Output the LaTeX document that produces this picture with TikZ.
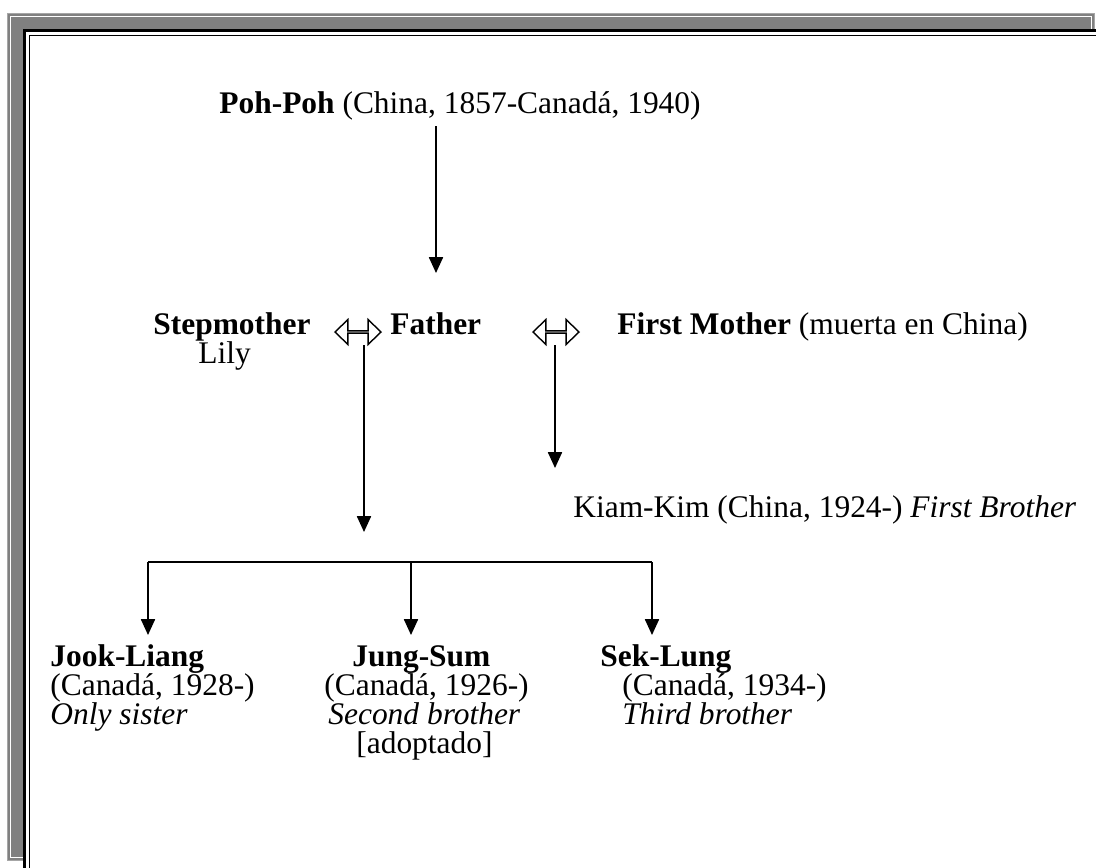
\documentclass[tikz,border=0pt]{standalone}
\usepackage{fontspec}
\setmainfont{Liberation Serif}
\usetikzlibrary{positioning,calc,arrows.meta,shapes.arrows}

\begin{document}
\begin{tikzpicture}[x=0.02cm,y=-0.02cm,
    txt/.style={anchor=base west, inner sep=0pt, font=\fontsize{17.9}{20}\selectfont},
    arr/.style={line width=0.9pt, -{Triangle[length=9pt,width=8pt]}},
    link/.style={line width=0.9pt},
    marriage/.style={double arrow, draw, line width=0.8pt, inner sep=0pt,
        minimum height=0.92cm, minimum width=0.5cm,
        double arrow head extend=0.15cm, double arrow tip angle=88}]
\clip (0,0) rectangle (1096,867);
% page border with shadow
\fill[black!50] (7,13) rectangle (1095,861);
\draw[black!35,line width=0.6pt] (7.5,13.5) rectangle (1094.5,860.5);
\draw[white,line width=0.5pt] (10.5,16.5) rectangle (1091.5,857.5);
\fill[white] (23.5,29.5) rectangle (1120,890);
\draw[black,line width=1.6pt] (24.8,30.8) rectangle (1120,890);
\draw[black,line width=1.1pt] (29.5,35.5) rectangle (1120,890);

% grandmother
\node[txt] (pohpoh) at (219,113) {\textbf{Poh-Poh} (China, 1857-Canadá, 1940)};

% parents
\node[txt] (stepmother) at (153,334) {\textbf{Stepmother}};
\node[txt] (lily) at (198,363) {Lily};
\node[txt] (father) at (390,334) {\textbf{Father}};
\node[txt] (firstmother) at (617,334) {\textbf{First Mother} (muerta en China)};
\node[marriage] (m1) at (358,332) {};
\node[marriage] (m2) at (556,332) {};

% first son
\node[txt] (kiamkim) at (573,517) {Kiam-Kim (China, 1924-) \textit{First Brother}};

% children
\node[txt] (jookliang) at (50,666) {\textbf{Jook-Liang}};
\node[txt] (jookbirth) at (50,695) {(Canadá, 1928-)};
\node[txt] (jookrole) at (50,724) {\textit{Only sister}};
\node[txt] (jungsum) at (352,666) {\textbf{Jung-Sum}};
\node[txt] (jungbirth) at (324,695) {(Canadá, 1926-)};
\node[txt] (jungrole) at (328,724) {\textit{Second brother}};
\node[txt] (jungnote) at (356,753) {[adoptado]};
\node[txt] (seklung) at (600,666) {\textbf{Sek-Lung}};
\node[txt] (sekbirth) at (622,695) {(Canadá, 1934-)};
\node[txt] (sekrole) at (622,724) {\textit{Third brother}};

% connectors
\coordinate (pohdown) at (436,126);
\coordinate (fathertop) at (436,273);
\draw[arr] (pohdown) -- (fathertop);
\coordinate (m1down) at (364,345);
\coordinate (m1tip) at (364,532);
\draw[arr] (m1down) -- (m1tip);
\coordinate (m2down) at (555,345);
\coordinate (m2tip) at (555,468);
\draw[arr] (m2down) -- (m2tip);
\coordinate (barl) at (148,562);
\coordinate (barm) at (411,562);
\coordinate (barr) at (652,562);
\draw[link] (barl) -- (barr);
\draw[arr] (barl) -- (barl |- 0,635);
\draw[arr] (barm) -- (barm |- 0,635);
\draw[arr] (barr) -- (barr |- 0,635);
\end{tikzpicture}
\end{document}
